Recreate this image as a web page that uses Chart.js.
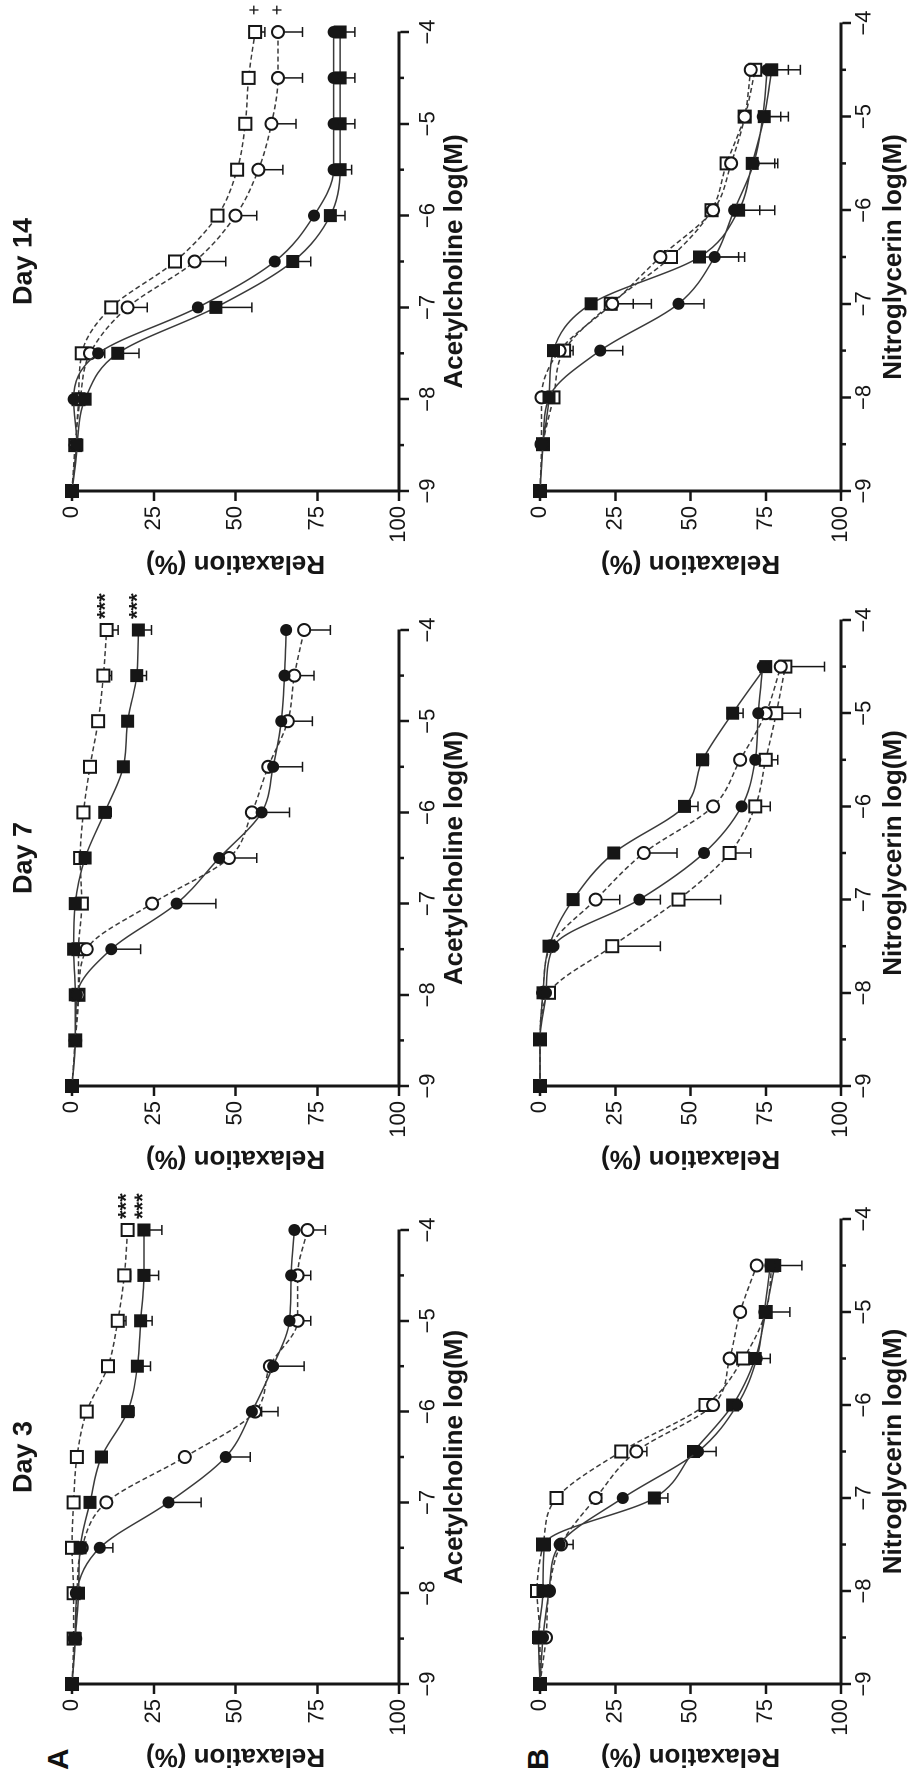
<!DOCTYPE html>
<html>
<head>
<meta charset="utf-8">
<script src="https://cdn.jsdelivr.net/npm/chart.js@4.4.1/dist/chart.umd.min.js"></script>
<style>
  html, body { margin: 0; padding: 0; background: #fff; }
  body { width: 908px; height: 1776px; overflow: hidden; position: relative; }
  /* the figure is laid out unrotated (1776 x 908) and turned a quarter left */
  #figure { position: absolute; left: 0; top: 1776px; width: 1776px; height: 908px;
            transform-origin: 0 0; transform: rotate(-90deg); }
  #figure canvas { position: absolute; }
  .panel-letter { position: absolute; font: bold 30px 'Liberation Sans', Arial, sans-serif;
                  line-height: 30px; color: #111; }
</style>
</head>
<body>
<div id="figure">
  <div class="panel-letter" style="left:6px; top:43px">A</div>
  <div class="panel-letter" style="left:6px; top:523px">B</div>
</div>
<script>
// ---------------------------------------------------------------
// data
// ---------------------------------------------------------------
const concA = [-9, -8.5, -8, -7.5, -7, -6.5, -6, -5.5, -5, -4.5, -4];
const concB = [-9, -8.5, -8, -7.5, -7, -6.5, -6, -5.5, -5, -4.5];
const concTickLabels = ['\u22129', '\u22128', '\u22127', '\u22126', '\u22125', '\u22124'];
const relaxTickLabels = ['0', '25', '50', '75', '100'];
const dayTitles = ['Day 3', 'Day 7', 'Day 14'];
const drugTitles = ['Acetylcholine log(M)', 'Nitroglycerin log(M)'];
const relaxTitle = 'Relaxation (%)';

// series order in every panel: filled circle, filled square, open circle, open square
// Day 3 - acetylcholine
const ach3FC = [0, 1, 1.5, 8.5, 29.5, 47, 55, 61.5, 66.5, 67, 68];
const ach3FCerr = [0, 0, 0, 4, 10, 7.5, 3, 9.5, 1, 1, 1];
const ach3FS = [0, 1, 2, 2.5, 5.5, 9, 17, 20, 21, 22, 22];
const ach3FSerr = [0, 0, 0, 0, 0, 1, 2, 4, 3.5, 4.5, 5.5];
const ach3OC = [0, 1, 1.5, 3, 10.5, 34.5, 56, 60.5, 69, 69, 72];
const ach3OCerr = [0, 0, 0, 0, 1, 1, 7, 1, 4, 4, 5.5];
const ach3OS = [0, 0.5, 0.5, 0, 0.5, 1.5, 4.5, 11, 14, 16, 17];
const ach3OSerr = [0, 0, 0, 0, 0, 0, 1, 1, 2.5, 2, 1.5];
const ach3Sig = ['', '***', '', '***'];

// Day 7 - acetylcholine
const ach7FC = [0, 1, 1.5, 12, 32, 45, 58, 61.5, 64, 65, 65.5];
const ach7FCerr = [0, 0, 0, 9, 12, 1, 8.5, 9, 1, 1, 1];
const ach7FS = [0, 1, 1, 0.5, 1, 4, 10, 15.7, 17, 19.8, 20.3];
const ach7FSerr = [0, 0, 0, 0, 0, 0, 2, 0, 0, 3, 4];
const ach7OC = [0, 1, 2, 4.5, 24.5, 48, 55, 60, 66, 68, 71];
const ach7OCerr = [0, 0, 0, 0, 1, 8.5, 1, 1, 7.5, 6, 8];
const ach7OS = [0, 1, 2, 2, 3, 2.5, 3.5, 5.5, 8, 9.6, 10.6];
const ach7OSerr = [0, 0, 0, 0, 0, 0, 0, 0, 1.5, 2.5, 3.5];
const ach7Sig = ['', '***', '', '***'];

// Day 14 - acetylcholine
const ach14FC = [0, 1.5, 0.5, 8, 38.5, 62, 74, 80, 80, 80, 80];
const ach14FCerr = [0, 0, 0, 2, 1, 1, 0, 0, 0, 0, 0];
const ach14FS = [0, 1.5, 4, 14, 44, 67.5, 79, 82, 82, 82, 82];
const ach14FSerr = [0, 0, 0, 6.5, 11, 5.5, 4.5, 3.5, 4.5, 4.5, 4.5];
const ach14OC = [0, 1, 2.5, 5.5, 17, 37.5, 50, 57, 61, 63, 63];
const ach14OCerr = [0, 0, 0, 1, 6, 9.5, 6.5, 7.5, 7.5, 7.5, 7.5];
const ach14OS = [0, 1, 2, 3, 12, 31.5, 44.5, 50.5, 53, 54, 56];
const ach14OSerr = [0, 0, 0, 0, 1.5, 1, 1, 1.5, 1, 1, 3];
const ach14Sig = ['', '', '+', '+'];

// Day 3 - nitroglycerin
const ntg3FC = [0, 1, 3, 6.5, 27.5, 52.5, 65.5, 72, 74.5, 76.5];
const ntg3FCerr = [0, 0, 0, 4.5, 1, 6, 1, 4.5, 1, 1];
const ntg3FS = [0, -0.5, 1, 1.5, 38, 51, 64, 71.5, 75, 78];
const ntg3FSerr = [0, 0, 0, 0, 4.5, 1, 1, 1, 8, 9];
const ntg3OC = [0, 2, 3, 7, 18.5, 32, 57.5, 63, 66.5, 72];
const ntg3OCerr = [0, 0, 0, 0, 2, 3.5, 1, 1, 0, 0];
const ntg3OS = [0, 0, -1, 1, 5.5, 27, 55, 67.5, 75, 77];
const ntg3OSerr = [0, 0, 0, 0, 0, 1, 1.5, 1.5, 0, 1];

// Day 7 - nitroglycerin
const ntg7FC = [0, 0, 2, 4.5, 33, 54.5, 67, 71.5, 72.5, 74];
const ntg7FCerr = [0, 0, 0, 0, 7, 1, 1, 1, 1, 0];
const ntg7FS = [0, 0, 1, 3, 11, 24.5, 48, 54, 64, 75];
const ntg7FSerr = [0, 0, 0, 0, 0, 0, 4.5, 2, 3.5, 0];
const ntg7OC = [0, 0, 1, 3.5, 18.5, 34.5, 57.5, 66.5, 75, 80];
const ntg7OCerr = [0, 0, 0, 0, 8, 11, 1, 1, 1, 1];
const ntg7OS = [0, 0, 3, 24, 46, 63, 71.5, 75, 78.5, 81.5];
const ntg7OSerr = [0, 0, 0, 16, 14, 7, 5, 4, 8, 13];

// Day 14 - nitroglycerin
const ntg14FC = [0, 1, 3, 20, 46, 58, 64.5, 71, 74, 75.5];
const ntg14FCerr = [0, 0, 0, 7.5, 8.5, 10, 8.5, 7, 6, 7];
const ntg14FS = [0, 1, 3, 4.5, 17, 53, 66, 70.5, 74.5, 77];
const ntg14FSerr = [0, 0, 0, 0, 0, 13, 12, 8.5, 8, 9.5];
const ntg14OC = [0, 0.5, 0.5, 6.5, 24, 40, 57.5, 63.5, 68, 70];
const ntg14OCerr = [0, 0, 0, 1, 13, 1, 1, 1, 1, 0];
const ntg14OS = [0, 1, 4.5, 8, 23.5, 43.5, 57, 62, 68, 71.5];
const ntg14OSerr = [0, 0, 0, 3, 7.5, 1, 1, 1, 1, 5];

// ---------------------------------------------------------------
// look
// ---------------------------------------------------------------
const INK = '#161616';
const LINE = '#3a3a3a';
const SANS = "'Liberation Sans', Arial, Helvetica, sans-serif";
const NARROW = "'Liberation Sans Narrow', 'Arial Narrow', 'Liberation Sans', Arial, sans-serif";
const AXIS_W = 90;   // room left of the value axis (ticks + title)

Chart.defaults.font.family = SANS;
Chart.defaults.color = INK;

const markerStyles = [
  { pointStyle: 'circle', pointRadius: 5.5, pointBackgroundColor: INK, pointBorderWidth: 1, borderDash: [] },
  { pointStyle: 'rect', pointRadius: 8.5, pointBackgroundColor: INK, pointBorderWidth: 1, borderDash: [] },
  { pointStyle: 'circle', pointRadius: 6, pointBackgroundColor: '#fff', pointBorderWidth: 2, borderDash: [5, 3] },
  { pointStyle: 'rect', pointRadius: 8.5, pointBackgroundColor: '#fff', pointBorderWidth: 2, borderDash: [5, 3] }
];

// rows and columns of the (unrotated) figure, in px
const rowA = { top: 72, bottom: 399, canvasTop: 0, canvasBottom: 474, padTop: 0, padRight: 40,
               tickPad: 6, titlePad: 6 };
const rowB = { top: 540, bottom: 841, canvasTop: 515, canvasBottom: 908, padTop: 25, padRight: 20,
               tickPad: 0, titlePad: 1 };
const colLeft = [92, 690, 1285];
const colRightA = [546, 1146, 1744];
const colRightB = [557, 1156, 1753];

// ---------------------------------------------------------------
// plugins
// ---------------------------------------------------------------
// one-sided SEM bars (towards more relaxation)
const errorBars = {
  id: 'errorBars',
  beforeDatasetsDraw(chart) {
    const { ctx, scales: { x, y } } = chart;
    ctx.save();
    ctx.strokeStyle = INK;
    ctx.lineWidth = 1.5;
    chart.data.datasets.forEach(ds => {
      (ds.errors || []).forEach((e, i) => {
        if (!e) return;
        const p = ds.data[i];
        const px = x.getPixelForValue(p.x);
        const y0 = y.getPixelForValue(p.y);
        const y1 = y.getPixelForValue(p.y + e);
        ctx.beginPath();
        ctx.moveTo(px, y0); ctx.lineTo(px, y1);
        ctx.moveTo(px - 5, y1); ctx.lineTo(px + 5, y1);
        ctx.stroke();
      });
    });
    ctx.restore();
  }
};

// short ticks at the half-log steps
const minorTicks = {
  id: 'minorTicks',
  afterDraw(chart) {
    const { ctx, chartArea, scales: { x } } = chart;
    ctx.save();
    ctx.strokeStyle = INK;
    ctx.lineWidth = 2.5;
    x.ticks.forEach(t => {
      if (Number.isInteger(t.value)) return;
      const px = x.getPixelForValue(t.value);
      ctx.beginPath();
      ctx.moveTo(px, chartArea.bottom);
      ctx.lineTo(px, chartArea.bottom + 5);
      ctx.stroke();
    });
    ctx.restore();
  }
};

// significance marks after the last point of a series
const sigMarks = {
  id: 'sigMarks',
  afterDatasetsDraw(chart, args, opts) {
    const { ctx, scales: { x, y } } = chart;
    ctx.save();
    ctx.fillStyle = INK;
    ctx.textBaseline = 'middle';
    ctx.textAlign = opts.align || 'left';
    ctx.font = opts.font || ('22px ' + SANS);
    chart.data.datasets.forEach(ds => {
      if (!ds.sig) return;
      const p = ds.data[ds.data.length - 1];
      ctx.fillText(ds.sig, x.getPixelForValue(p.x) + (opts.dx || 12), y.getPixelForValue(p.y) + (opts.dy || 0));
    });
    ctx.restore();
  }
};

// ---------------------------------------------------------------
// one panel
// ---------------------------------------------------------------
function drawPanel(row, col, right, conc, values, errors, sig, xTitle, title, sigOpts) {
  const fig = document.getElementById('figure');
  const cv = document.createElement('canvas');
  const left = colLeft[col] - AXIS_W;
  const w = right + row.padRight - left;
  const h = row.canvasBottom - row.canvasTop;
  cv.width = w; cv.height = h;
  cv.style.left = left + 'px';
  cv.style.top = row.canvasTop + 'px';
  cv.style.width = w + 'px';
  cv.style.height = h + 'px';
  fig.appendChild(cv);

  const datasets = values.map((vals, s) => Object.assign({
    data: vals.map((v, i) => ({ x: conc[i], y: v })),
    errors: errors[s],
    sig: sig ? sig[s] : '',
    showLine: true,
    borderColor: LINE,
    borderWidth: 1.5,
    pointBorderColor: INK,
    cubicInterpolationMode: 'monotone',
    clip: false
  }, markerStyles[s]));

  const titleBoxTop = 8, titleFont = 27;

  return new Chart(cv, {
    type: 'scatter',
    data: { datasets },
    plugins: [errorBars, minorTicks, sigMarks],
    options: {
      responsive: false,
      animation: false,
      devicePixelRatio: 2,
      layout: { padding: { top: row.padTop, right: row.padRight, left: 0, bottom: 0 } },
      plugins: {
        legend: { display: false },
        tooltip: { enabled: false },
        title: {
          display: !!title,
          text: title,
          fullSize: false,
          color: INK,
          font: { family: NARROW, size: titleFont, weight: 'bold', lineHeight: 1.2 },
          padding: { top: titleBoxTop, bottom: row.top - titleBoxTop - titleFont * 1.2 }
        },
        sigMarks: sigOpts || {}
      },
      scales: {
        x: {
          type: 'linear',
          position: 'bottom',
          min: -9, max: -4,
          afterFit: s => { s.height = row.canvasBottom - row.bottom; },
          ticks: {
            stepSize: 0.5,
            autoSkip: false,
            maxRotation: 0,
            padding: row.tickPad,
            color: INK,
            font: { family: NARROW, size: 22, lineHeight: 1.2 },
            callback: v => Number.isInteger(v) ? concTickLabels[v + 9] : ''
          },
          grid: {
            drawOnChartArea: false,
            tickLength: 10,
            tickWidth: 2.5,
            tickColor: c => (c.tick && Number.isInteger(c.tick.value)) ? INK : 'rgba(0,0,0,0)'
          },
          border: { display: true, width: 3, color: INK },
          title: {
            display: true,
            text: xTitle,
            color: INK,
            font: { family: SANS, size: 26, weight: 'bold', lineHeight: 1 },
            padding: { top: 0, bottom: row.titlePad }
          }
        },
        y: {
          type: 'linear',
          position: 'left',
          min: 0, max: 100,
          reverse: true,
          afterFit: s => { s.width = AXIS_W; },
          ticks: {
            stepSize: 25,
            padding: 5,
            color: INK,
            font: { family: NARROW, size: 22, lineHeight: 1.2 },
            callback: v => relaxTickLabels[v / 25]
          },
          grid: { drawOnChartArea: false, tickLength: 10, tickWidth: 2.5, tickColor: INK },
          border: { display: true, width: 3, color: INK },
          title: {
            display: true,
            text: relaxTitle,
            color: INK,
            font: { family: SANS, size: 26, weight: 'bold', lineHeight: 1 },
            padding: { top: 5, bottom: 0 }
          }
        }
      }
    }
  });
}

const starOpts = { dx: 11, font: 'bold 22px ' + SANS };
const plusOpts = { dx: 22, align: 'center', font: '18px ' + SANS };

// row A: acetylcholine
drawPanel(rowA, 0, colRightA[0], concA,
  [ach3FC, ach3FS, ach3OC, ach3OS], [ach3FCerr, ach3FSerr, ach3OCerr, ach3OSerr],
  ach3Sig, drugTitles[0], dayTitles[0], starOpts);
drawPanel(rowA, 1, colRightA[1], concA,
  [ach7FC, ach7FS, ach7OC, ach7OS], [ach7FCerr, ach7FSerr, ach7OCerr, ach7OSerr],
  ach7Sig, drugTitles[0], dayTitles[1], starOpts);
drawPanel(rowA, 2, colRightA[2], concA,
  [ach14FC, ach14FS, ach14OC, ach14OS], [ach14FCerr, ach14FSerr, ach14OCerr, ach14OSerr],
  ach14Sig, drugTitles[0], dayTitles[2], plusOpts);

// row B: nitroglycerin
drawPanel(rowB, 0, colRightB[0], concB,
  [ntg3FC, ntg3FS, ntg3OC, ntg3OS], [ntg3FCerr, ntg3FSerr, ntg3OCerr, ntg3OSerr],
  null, drugTitles[1], '', null);
drawPanel(rowB, 1, colRightB[1], concB,
  [ntg7FC, ntg7FS, ntg7OC, ntg7OS], [ntg7FCerr, ntg7FSerr, ntg7OCerr, ntg7OSerr],
  null, drugTitles[1], '', null);
drawPanel(rowB, 2, colRightB[2], concB,
  [ntg14FC, ntg14FS, ntg14OC, ntg14OS], [ntg14FCerr, ntg14FSerr, ntg14OCerr, ntg14OSerr],
  null, drugTitles[1], '', null);
</script>
</body>
</html>
